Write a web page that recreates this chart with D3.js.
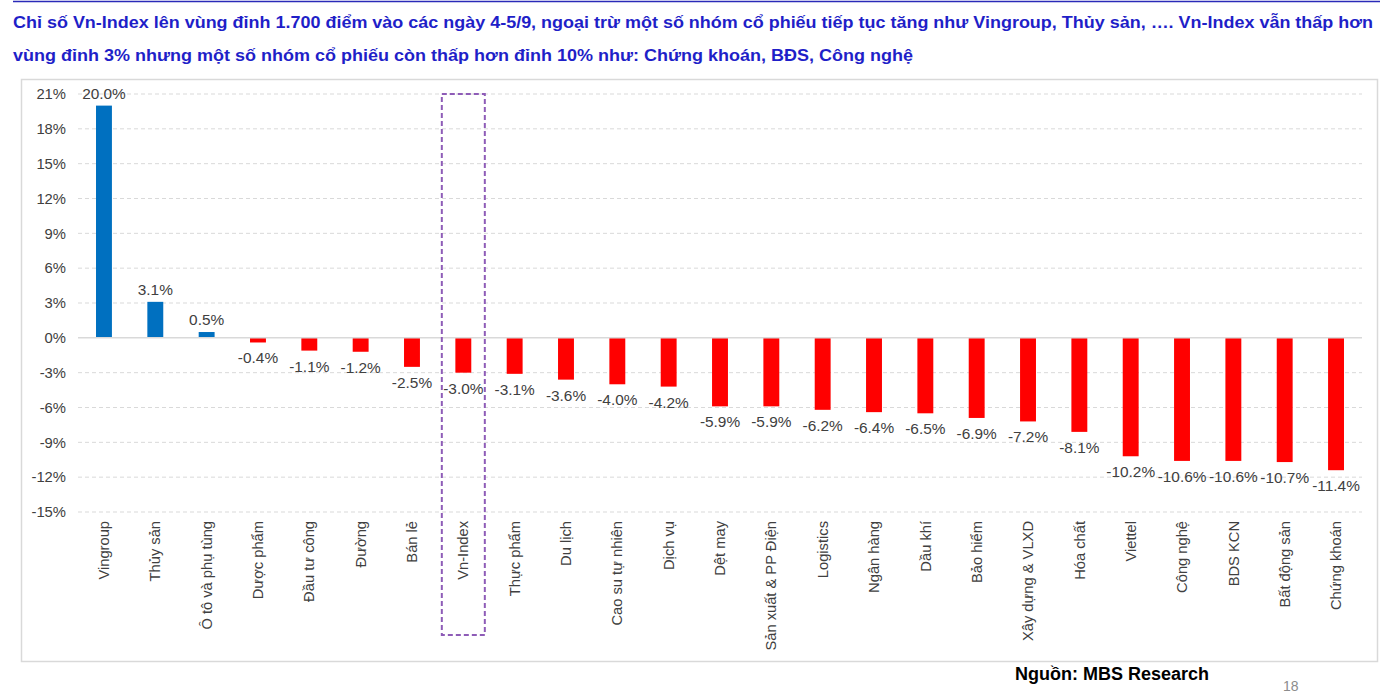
<!DOCTYPE html>
<html>
<head>
  <meta charset="utf-8">
  <script src="https://d3js.org/d3.v7.min.js"></script>
  <style>
    body { margin: 0; background: #fff; }
    svg text { font-family: "Liberation Sans", Arial, sans-serif; }
  </style>
</head>
<body>
<script>
  var categories = ["Vingroup", "Thủy sản", "Ô tô và phụ tùng", "Dược phẩm", "Đầu tư công",
    "Đường", "Bán lẻ", "Vn-Index", "Thực phẩm", "Du lịch", "Cao su tự nhiên", "Dịch vụ",
    "Dệt may", "Sản xuất & PP Điện", "Logistics", "Ngân hàng", "Dầu khí", "Bảo hiểm",
    "Xây dựng & VLXD", "Hóa chất", "Viettel", "Công nghệ", "BDS KCN", "Bất động sản", "Chứng khoán"];
  var values = [20.0, 3.1, 0.5, -0.4, -1.1, -1.2, -2.5, -3.0, -3.1, -3.6, -4.0, -4.2,
    -5.9, -5.9, -6.2, -6.4, -6.5, -6.9, -7.2, -8.1, -10.2, -10.6, -10.6, -10.7, -11.4];
  var yTicks = [21, 18, 15, 12, 9, 6, 3, 0, -3, -6, -9, -12, -15];
  var titleLines = [
    "Chỉ số Vn-Index lên vùng đỉnh 1.700 điểm vào các ngày 4-5/9, ngoại trừ một số nhóm cổ phiếu tiếp tục tăng như Vingroup, Thủy sản, …. Vn-Index vẫn thấp hơn",
    "vùng đỉnh 3% nhưng một số nhóm cổ phiếu còn thấp hơn đỉnh 10% như: Chứng khoán, BĐS, Công nghệ"
  ];
  var titleWidths = [1360, 900];
  var highlight = "Vn-Index";

  var width = 1391, height = 696;
  var svg = d3.select("body").append("svg")
      .attr("width", width).attr("height", height);

  // top rule + title
  svg.append("line").attr("x1", 13).attr("x2", 1380).attr("y1", 1.5).attr("y2", 1.5)
    .attr("stroke", "#2a2ab8").attr("stroke-width", 1.5);
  svg.selectAll(".title").data(titleLines).enter().append("text")
    .attr("x", 13).attr("y", function (d, i) { return 28 + i * 33; })
    .attr("textLength", function (d, i) { return titleWidths[i]; })
    .attr("lengthAdjust", "spacingAndGlyphs")
    .style("font-size", "17px").style("font-weight", "bold").attr("fill", "#1f1fc8")
    .text(function (d) { return d; });

  // chart frame
  svg.append("rect").attr("x", 21.5).attr("y", 79.5).attr("width", 1356).attr("height", 582)
    .attr("fill", "none").attr("stroke", "#d9d9d9").attr("stroke-width", 1.5);

  var x = d3.scaleBand().domain(categories).range([78.3, 1361.7]).paddingInner(0.69).paddingOuter(0.345);
  var y = d3.scaleLinear().domain([-15, 21]).range([512, 94]);

  // grid
  svg.selectAll(".grid").data(yTicks.filter(function (d) { return d !== 0; })).enter().append("line")
    .attr("x1", 78).attr("x2", 1362)
    .attr("y1", function (d) { return y(d); }).attr("y2", function (d) { return y(d); })
    .attr("stroke", "#d9d9d9").attr("stroke-width", 1).attr("stroke-dasharray", "4,3");

  var yAxis = svg.append("g").attr("transform", "translate(66,0)")
    .call(d3.axisLeft(y).tickValues(yTicks).tickSize(0).tickPadding(0)
      .tickFormat(function (d) { return d + "%"; }));
  yAxis.select(".domain").remove();
  yAxis.selectAll("text").style("font-size", "14.8px").attr("fill", "#404040")
    .style("font-family", "Liberation Sans, Arial, sans-serif");

  // bars
  svg.selectAll(".bar").data(values).enter().append("rect")
    .attr("x", function (d, i) { return x(categories[i]); })
    .attr("width", x.bandwidth())
    .attr("y", function (d) { return y(Math.max(0, d)); })
    .attr("height", function (d) { return Math.abs(y(d) - y(0)); })
    .attr("fill", function (d) { return d >= 0 ? "#0070c0" : "#ff0000"; });

  // zero line
  svg.append("line").attr("x1", 78).attr("x2", 1362).attr("y1", y(0)).attr("y2", y(0))
    .attr("stroke", "#d9d9d9").attr("stroke-width", 1.5);

  // data labels
  svg.selectAll(".lbl").data(values).enter().append("text")
    .attr("x", function (d, i) { return x(categories[i]) + x.bandwidth() / 2; })
    .attr("y", function (d) { return d >= 0 ? y(d) - 7 : y(d) + 21; })
    .attr("text-anchor", "middle").style("font-size", "15.4px").attr("fill", "#404040")
    .text(function (d) { return d.toFixed(1) + "%"; });

  // x labels
  var xAxis = svg.append("g").attr("transform", "translate(0,521)")
    .call(d3.axisBottom(x).tickSize(0).tickPadding(0));
  xAxis.select(".domain").remove();
  xAxis.selectAll("text")
    .attr("transform", "rotate(-90)").attr("x", 0).attr("y", 0).attr("dy", "0.35em")
    .attr("text-anchor", "end").style("font-size", "14.7px").attr("fill", "#404040")
    .style("font-family", "Liberation Sans, Arial, sans-serif");

  // highlight box
  var hx = x(highlight) + x.bandwidth() / 2;
  svg.append("rect").attr("x", hx - 21.5).attr("y", 94).attr("width", 43).attr("height", 541)
    .attr("fill", "none").attr("stroke", "#8e5cb7").attr("stroke-width", 2)
    .attr("stroke-dasharray", "5,3");

  // source + page number
  svg.append("text").attr("x", 1015).attr("y", 680).style("font-size", "18px")
    .style("font-weight", "bold").attr("fill", "#000").text("Nguồn: MBS Research");
  svg.append("text").attr("x", 1283).attr("y", 691).style("font-size", "14px")
    .attr("fill", "#8c8c8c").text("18");
</script>
</body>
</html>
